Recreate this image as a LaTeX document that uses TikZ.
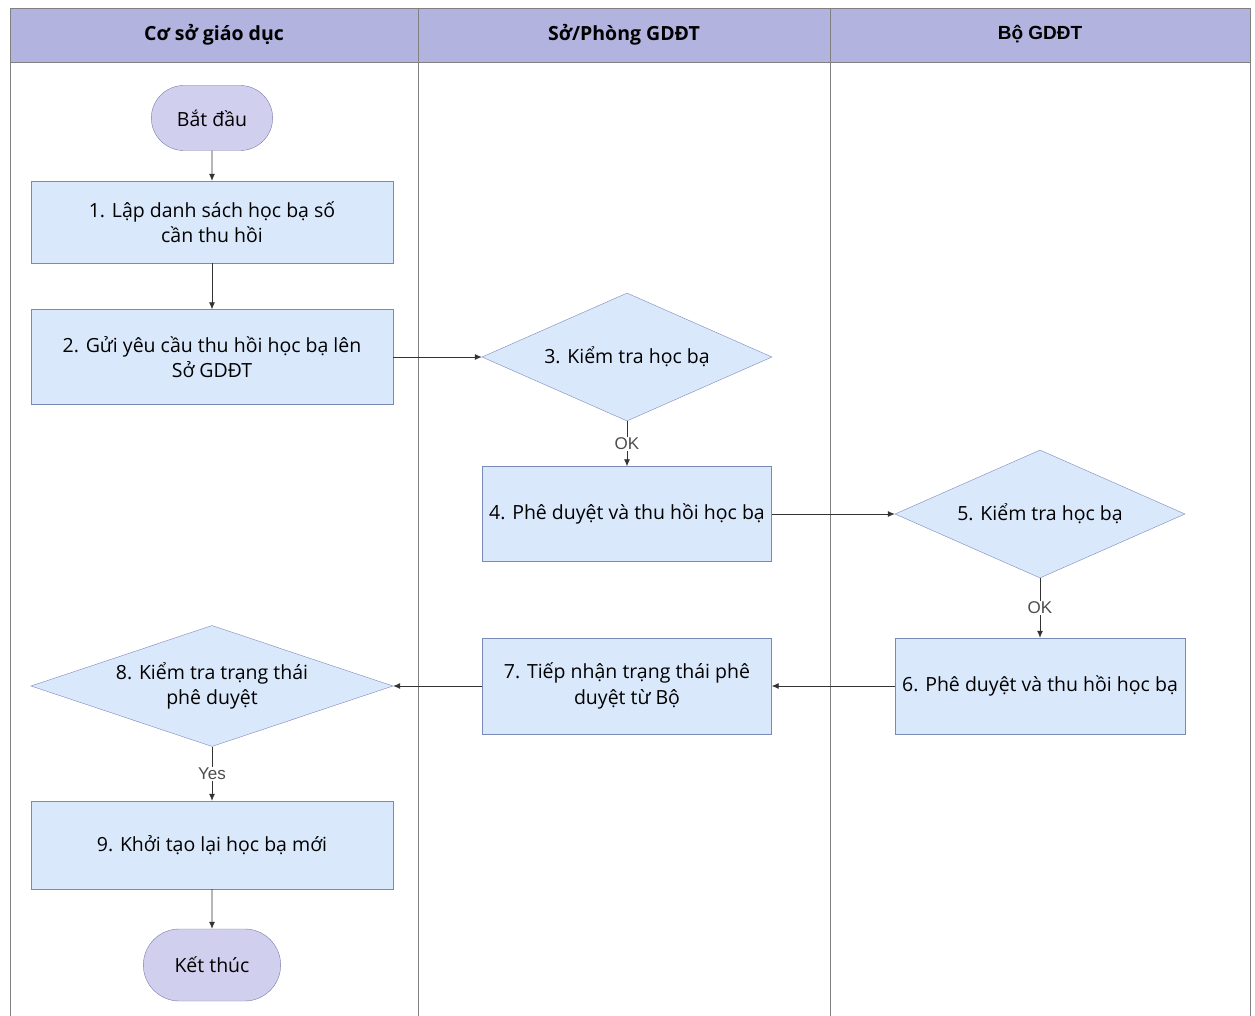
\documentclass[tikz,border=0pt]{standalone}
\usepackage{fontspec}
\setmainfont{Open Sans}
\newfontfamily\lblfont{Liberation Sans}
\usetikzlibrary{shapes.geometric,shapes.misc,arrows.meta,positioning}

\definecolor{hdrfill}{HTML}{B3B3E0}
\definecolor{boxfill}{HTML}{DAE8FC}
\definecolor{boxline}{HTML}{7A8AB8}
\definecolor{termfill}{HTML}{D0D0EE}
\definecolor{termline}{HTML}{7A7AAE}
\definecolor{laneline}{HTML}{808080}

\tikzset{
	stepbox/.style={draw=boxline, fill=boxfill, minimum width=362pt, minimum height=82pt, align=center, font=\fontsize{19.5}{25.5}\selectfont},
	checkbox/.style={draw=boxline, fill=boxfill, diamond, aspect=2.26, inner sep=0pt, minimum width=290pt, minimum height=128pt, align=center, font=\fontsize{19.5}{25.5}\selectfont},
	termnode/.style={draw=termline, fill=termfill, rounded rectangle, minimum width=128pt, minimum height=65pt, font=\fontsize{19.5}{25.5}\selectfont},
	flow/.style={draw=black!80, line width=0.8pt, -{Latex[length=7pt,width=6pt]}},
	oklbl/.style={fill=white, inner sep=1pt, text=black!70, font=\lblfont\fontsize{17}{18}\selectfont},
	lanehdr/.style={font=\bfseries\fontsize{19.5}{22}\selectfont}
}

\begin{document}
\begin{tikzpicture}[x=1pt, y=-1pt]
		\useasboundingbox (0,0) rectangle (1255,1016);
		% lanes
		\fill[hdrfill] (10,8) rectangle (1250,62);
		\draw[laneline] (10,1016) -- (10,8) -- (1250,8) -- (1250,1016);
		\draw[laneline] (10,62) -- (1250,62);
		\draw[laneline] (418,8) -- (418,1016);
		\draw[laneline] (830,8) -- (830,1016);
		\node[lanehdr] (h1) at (214,35) {Cơ sở giáo dục};
		\node[lanehdr] (h2) at (624,35) {Sở/Phòng GDĐT};
		\node[lanehdr, font=\lblfont\bfseries\fontsize{19}{22}\selectfont] (h3) at (1040,34) {Bộ GDĐT};

		% steps
		\node[termnode] (start) at (212,118) {Bắt đầu};
		\node[stepbox] (s1) at (212,222) {1. Lập danh sách học bạ số\\cần thu hồi};
		\node[stepbox, minimum height=95pt] (s2) at (212,357) {2. Gửi yêu cầu thu hồi học bạ lên\\Sở GDĐT};
		\node[checkbox] (s3) at (627,357) {3. Kiểm tra học bạ};
		\node[stepbox, minimum width=289pt, minimum height=95pt] (s4) at (627,514) {4. Phê duyệt và thu hồi học bạ};
		\node[checkbox] (s5) at (1040,514) {5. Kiểm tra học bạ};
		\node[stepbox, minimum width=290pt, minimum height=96pt] (s6) at (1040,686) {6. Phê duyệt và thu hồi học bạ};
		\node[stepbox, minimum width=289pt, minimum height=96pt] (s7) at (627,686) {7. Tiếp nhận trạng thái phê\\duyệt từ Bộ};
		\node[checkbox, aspect=3, minimum width=362pt, minimum height=121pt] (s8) at (212,686) {8. Kiểm tra trạng thái\\phê duyệt};
		\node[stepbox, minimum height=88pt] (s9) at (212,845) {9. Khởi tạo lại học bạ mới};
		\node[termnode, minimum width=144pt, minimum height=72pt] (end) at (212,965) {Kết thúc};

		% connectors
		\draw[flow] (start) -- (s1);
		\draw[flow] (s1) -- (s2);
		\draw[flow] (s2.east) -- (s3.west);
		\draw[flow] (s3) -- node[oklbl] {OK} (s4);
		\draw[flow] (s4.east) -- (s5.west);
		\draw[flow] (s5) -- node[oklbl] {OK} (s6);
		\draw[flow] (s6) -- (s7);
		\draw[flow] (s7) -- (s8.east);
		\draw[flow] (s8) -- node[oklbl] {Yes} (s9);
		\draw[flow] (s9) -- (end);
\end{tikzpicture}
\end{document}
